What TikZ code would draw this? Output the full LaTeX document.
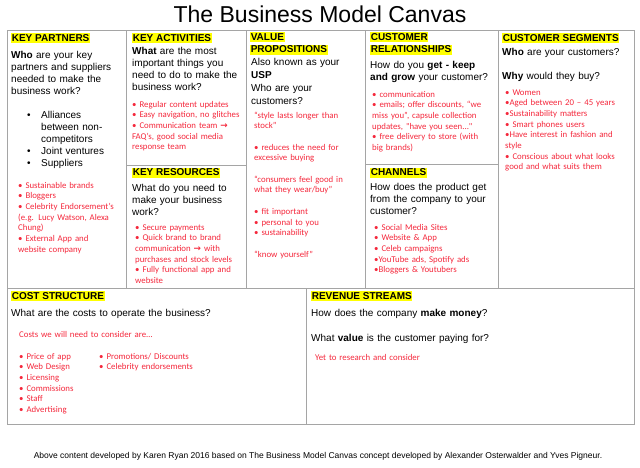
\documentclass[tikz,border=0pt]{standalone}
\usepackage{fontspec}
\setmainfont{Liberation Sans}
\newfontfamily\notefont{Carlito}
\newfontfamily\arrowfont{DejaVu Sans}
\usetikzlibrary{positioning}
\definecolor{cellline}{RGB}{165,165,165}
\definecolor{hlyellow}{RGB}{255,255,0}
\definecolor{notered}{RGB}{245,40,60}
\newcommand{\blt}{\makebox[14pt][l]{\textbullet}}
\newcommand{\listindent}{\hspace*{14pt}}
\newcommand{\toarrow}{{\arrowfont\bfseries →}}
\tikzset{
  cell/.style={draw=cellline, line width=0.9pt},
  head/.style={
    fill=hlyellow,
    anchor=north west,
    inner xsep=0.6pt,
    inner ysep=0.4pt,
    text height=7.6pt,
    text depth=1.4pt,
    font=\bfseries\fontsize{10}{12}\selectfont
  },
  ask/.style={
    anchor=base west,
    align=left,
    inner sep=0pt,
    text width=240pt,
    font=\fontsize{10}{12}\selectfont
  },
  note/.style={
    anchor=base west,
    align=left,
    inner sep=0pt,
    text width=240pt,
    text=notered,
    font=\notefont\fontsize{8.8}{10.7}\selectfont
  }
}

\begin{document}
\begin{tikzpicture}[x=1pt, y=-1pt]
    \useasboundingbox[fill=white] (0,0) rectangle (640,467);

    \node[font=\fontsize{23}{27}\selectfont, anchor=base, inner sep=0pt] (title) at (320,22)
      {The Business Model Canvas};

    % canvas cells
    \draw[cell] (7,30) rectangle (126,288);
    \draw[cell] (126,30) rectangle (246,165);
    \draw[cell] (126,165) rectangle (246,288);
    \draw[cell] (246,30) rectangle (365,288);
    \draw[cell] (365,30) rectangle (498,164);
    \draw[cell] (365,164) rectangle (498,288);
    \draw[cell] (498,30) rectangle (634,288);
    \draw[cell] (7,288) rectangle (306,424);
    \draw[cell] (306,288) rectangle (634,424);

    % key partners
    \node[head] (kp) at (11,33) {KEY PARTNERS};
    \node[ask] (kpQ) at (11,58.6)
      {\textbf{Who} are your key\\partners and suppliers\\needed to make the\\business work?};
    \node[ask] (kpList) at (27,118.6)
      {\blt Alliances\\\listindent between non-\\\listindent competitors\\\blt Joint ventures\\\blt Suppliers};
    \node[note] (kpNote) at (18,188)
      {• Sustainable brands\\• Bloggers\\• Celebrity Endorsement’s\\(e.g. Lucy Watson, Alexa\\Chung)\\• External App and\\website company};

    % key activities
    \node[head] (ka) at (132,33) {KEY ACTIVITIES};
    \node[ask] (kaQ) at (132,54.6)
      {\textbf{What} are the most\\important things you\\need to do to make the\\business work?};
    \node[note] (kaNote) at (132,107)
      {• Regular content updates\\• Easy navigation, no glitches\\• Communication team \toarrow\\FAQ’s, good social media\\response team};

    % key resources
    \node[head] (kr) at (132,167.5) {KEY RESOURCES};
    \node[ask] (krQ) at (132,191.6)
      {What do you need to\\make your business\\work?};
    \node[note] (krNote) at (135,230)
      {• Secure payments\\• Quick brand to brand\\communication \toarrow{} with\\purchases and stock levels\\• Fully functional app and\\website};

    % value propositions
    \node[head] (vpA) at (250,32) {VALUE};
    \node[head] (vpB) at (250,44.5) {PROPOSITIONS};
    \node[ask, font=\fontsize{10}{13}\selectfont] (vpQ) at (251,65.6)
      {Also known as your\\\textbf{USP}\\Who are your\\customers?};
    \node[note] (vpNote) at (254,118)
      {“style lasts longer than\\stock”\\[10.7pt]• reduces the need for\\excessive buying\\[10.7pt]“consumers feel good in\\what they wear/buy”\\[10.7pt]• fit important\\• personal to you\\• sustainability\\[10.7pt]“know yourself”};

    % customer relationships
    \node[head] (crA) at (370,32) {CUSTOMER};
    \node[head] (crB) at (370,44.5) {RELATIONSHIPS};
    \node[ask] (crQ) at (370,68.6)
      {How do you \textbf{get - keep}\\\textbf{and grow} your customer?};
    \node[note] (crNote) at (372,97)
      {• communication\\• emails; offer discounts, “we\\miss you”, capsule collection\\updates, "have you seen..."\\• free delivery to store (with\\big brands)};

    % channels
    \node[head] (ch) at (370,167.5) {CHANNELS};
    \node[ask] (chQ) at (370,190.6)
      {How does the product get\\from the company to your\\customer?};
    \node[note] (chNote) at (374,230)
      {• Social Media Sites\\• Website \& App\\• Celeb campaigns\\•YouTube ads, Spotify ads\\•Bloggers \& Youtubers};

    % customer segments
    \node[head] (cs) at (502,33) {CUSTOMER SEGMENTS};
    \node[ask] (csQ) at (502,55.6)
      {\textbf{Who} are your customers?\\[12pt]\textbf{Why} would they buy?};
    \node[note] (csNote) at (505,95)
      {• Women\\•Aged between 20 – 45 years\\•Sustainability matters\\• Smart phones users\\•Have interest in fashion and\\style\\• Conscious about what looks\\good and what suits them};

    % cost structure
    \node[head] (cost) at (11,291) {COST STRUCTURE};
    \node[ask] (costQ) at (11,316.6) {What are the costs to operate the business?};
    \node[note] (costIntro) at (19,337) {Costs we will need to consider are…};
    \node[note] (costListA) at (19,359)
      {• Price of app\\• Web Design\\• Licensing\\• Commissions\\• Staff\\• Advertising};
    \node[note] (costListB) at (99,359)
      {• Promotions/ Discounts\\• Celebrity endorsements};

    % revenue streams
    \node[head] (rev) at (311,291) {REVENUE STREAMS};
    \node[ask] (revQ) at (311,316.6)
      {How does the company \textbf{make money}?\\[12.5pt]What \textbf{value} is the customer paying for?};
    \node[note] (revNote) at (315,360) {Yet to research and consider};

    \node[font=\fontsize{8.5}{10}\selectfont, anchor=base, inner sep=0pt] (credit) at (318,458)
      {Above content developed by Karen Ryan 2016 based on The Business Model Canvas concept developed by Alexander Osterwalder and Yves Pigneur.};
\end{tikzpicture}
\end{document}
